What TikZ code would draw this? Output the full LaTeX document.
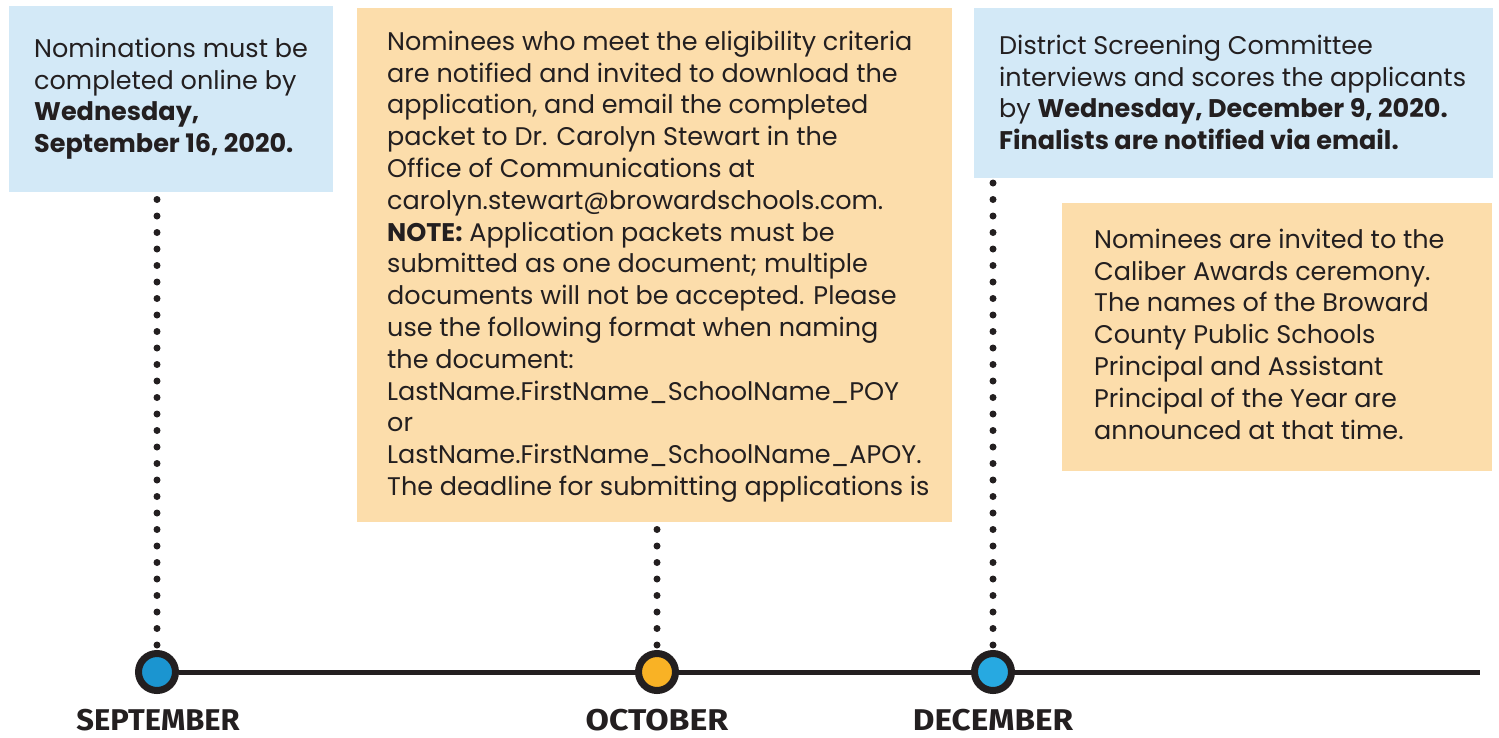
\documentclass[tikz,border=0pt]{standalone}
\usepackage{fontspec}
\setmainfont{Poppins}
\newfontfamily\monthfont{Fira Sans}
\pgfdeclarelayer{bg}
\pgfsetlayers{bg,main}
\definecolor{ink}{HTML}{231F20}
\definecolor{boxblue}{HTML}{D3E9F7}
\definecolor{boxorange}{HTML}{FCDDAB}
\definecolor{dotblue}{HTML}{1B95D0}
\definecolor{dotorange}{HTML}{F9B225}
\definecolor{dotsky}{HTML}{27A9E1}
\newcommand{\firstline}{\rule{0pt}{20pt}}
\tikzset{
  x=1pt, y=-1pt,
  panel/.style={rectangle, draw=none, anchor=north west, inner sep=0pt, outer sep=0pt},
  blurb/.style={anchor=north west, inner sep=0pt, align=left, text=ink,
    font=\fontsize{25.5}{31.8}\selectfont},
  milestone/.style={circle, draw=ink, line width=7pt, minimum size=37pt, inner sep=0pt},
  dotline/.style={draw=ink, line width=7pt, line cap=round, dash pattern=on 0pt off 16.5pt},
  axis/.style={draw=ink, line width=5pt},
  monthlabel/.style={anchor=base, inner sep=0pt, text=ink, font=\monthfont\bfseries\fontsize{30}{30}\selectfont}
}
\begin{document}
\begin{tikzpicture}
\useasboundingbox (0,0) rectangle (1499,737);
% panels
\node[panel, fill=boxblue, minimum width=324pt, minimum height=186pt] (p1) at (9,6) {};
\node[panel, fill=boxorange, minimum width=595pt, minimum height=514pt] (p2) at (357,8) {};
\node[panel, fill=boxblue, minimum width=519pt, minimum height=170pt] (p3) at (974,8) {};
\node[panel, fill=boxorange, minimum width=430pt, minimum height=268pt] (p4) at (1062,203) {};
% milestones
\node[milestone, fill=dotblue] (sep) at (157,672) {};
\node[milestone, fill=dotorange] (oct) at (657,672) {};
\node[milestone, fill=dotsky] (dec) at (993,672) {};
\coordinate (axisend) at (1480,672);
\begin{pgfonlayer}{bg}
\draw[axis] (sep.east) -- (axisend);
\path[dotline] ([yshift=5pt]sep.north) -- (sep.north |- p1.south);
\path[dotline] ([yshift=5pt]oct.north) -- (oct.north |- p2.south);
\path[dotline] ([yshift=5pt]dec.north) -- (dec.north |- p3.south);
\end{pgfonlayer}
% texts (north = first baseline - 20)
\node[blurb] (t1) at (34,37) {\firstline Nominations must be\\completed online by\\\textbf{Wednesday,}\\\textbf{September 16, 2020.}};
\node[blurb] (t2) at (387,30) {\firstline Nominees who meet the eligibility criteria\\are notified and invited to download the\\application, and email the completed\\packet to Dr. Carolyn Stewart in the\\Office of Communications at\\carolyn.stewart@browardschools.com.\\\textbf{NOTE:} Application packets must be\\submitted as one document; multiple\\documents will not be accepted. Please\\use the following format when naming\\the document:\\LastName.FirstName\_SchoolName\_POY\\or\\LastName.FirstName\_SchoolName\_APOY.\\The deadline for submitting applications is};
\node[blurb] (t3) at (999,34) {\firstline District Screening Committee\\interviews and scores the applicants\\by \textbf{Wednesday, December 9, 2020.}\\\textbf{Finalists are notified via email.}};
\node[blurb] (t4) at (1094,228) {\firstline Nominees are invited to the\\Caliber Awards ceremony.\\The names of the Broward\\County Public Schools\\Principal and Assistant\\Principal of the Year are\\announced at that time.};
% months
\node[monthlabel] (msep) at (158,730) {\scalebox{1.03}[1]{SEPTEMBER}};
\node[monthlabel] (moct) at (657,730) {\scalebox{1.13}[1]{OCTOBER}};
\node[monthlabel] (mdec) at (993,730) {\scalebox{1.11}[1]{DECEMBER}};
\end{tikzpicture}
\end{document}
